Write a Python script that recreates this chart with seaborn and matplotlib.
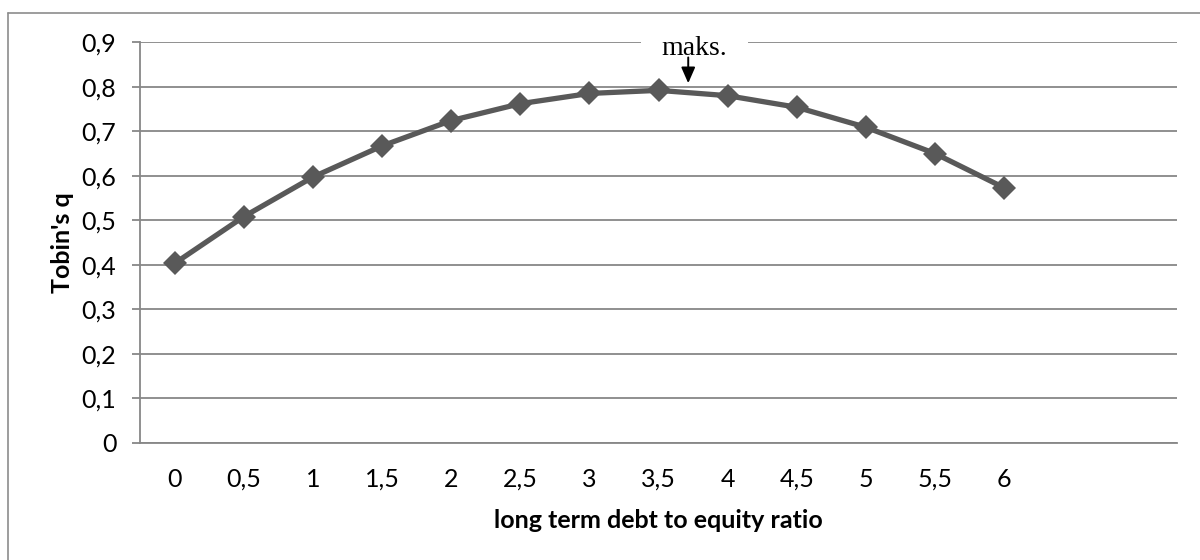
import matplotlib
matplotlib.use("Agg")
import matplotlib.pyplot as plt
from matplotlib.lines import Line2D
from matplotlib.patches import Rectangle
import numpy as np
import pandas as pd
import seaborn as sns

# Category axis: leverage levels, plus two empty slots on the right
ratio_labels = ["0", "0,5", "1", "1,5", "2", "2,5", "3", "3,5", "4", "4,5", "5", "5,5", "6", "", ""]
tobins_q = [0.403, 0.508, 0.597, 0.667, 0.724, 0.762, 0.785, 0.792, 0.780, 0.754, 0.709, 0.650, 0.573]
y_ticks = [0.0, 0.1, 0.2, 0.3, 0.4, 0.5, 0.6, 0.7, 0.8, 0.9]
y_tick_labels = ["0", "0,1", "0,2", "0,3", "0,4", "0,5", "0,6", "0,7", "0,8", "0,9"]

sns.set_theme(style="white")
plt.rcParams["font.family"] = ["Lato", "DejaVu Sans"]

GRID = "#878787"
SERIES = "#595959"

fig = plt.figure(figsize=(12, 5.6), dpi=100)
ax = fig.add_axes([140 / 1200, 1 - 442.7 / 560, 1037 / 1200, 400.4 / 560])

df = pd.DataFrame({"pos": np.arange(len(tobins_q)), "q": tobins_q})
sns.lineplot(data=df, x="pos", y="q", ax=ax, color=SERIES, linewidth=3.8,
             marker="D", markersize=12.5, markeredgewidth=0, zorder=3)

ax.set_xlim(-0.5, len(ratio_labels) - 0.5)
ax.set_ylim(0, 0.9)
ax.set_xticks(np.arange(len(ratio_labels)))
ax.set_xticklabels(ratio_labels)
ax.set_yticks(y_ticks)
ax.set_yticklabels(y_tick_labels)

ax.set_axisbelow(True)
ax.yaxis.grid(True, color=GRID, linewidth=1.3)
ax.xaxis.grid(False)
for side in ["top", "right"]:
    ax.spines[side].set_visible(False)
for side in ["left", "bottom"]:
    ax.spines[side].set_color(GRID)
    ax.spines[side].set_linewidth(1.3)

ax.tick_params(axis="y", which="both", left=True, length=6, width=1.3, color=GRID,
               pad=11, labelsize=18, labelcolor="black")
ax.tick_params(axis="x", which="both", bottom=False, pad=12, labelsize=18,
               labelcolor="black")

ax.set_xlabel("long term debt to equity ratio", fontsize=18, fontweight="bold", color="black")
ax.set_ylabel("Tobin's q", fontsize=18, fontweight="bold", color="black")
ax.xaxis.set_label_coords(0.5, -0.165)
ax.yaxis.set_label_coords(-0.064, 0.5)

# White text box behind the "maks." note, interrupting the top gridline
ax.add_patch(Rectangle((6.75, 0.86), 1.54, 0.07, facecolor="white", edgecolor="none",
                       zorder=1, clip_on=False))
ax.annotate("", xy=(7.43, 0.808), xytext=(7.43, 0.866),
            arrowprops=dict(arrowstyle="-|>,head_length=0.8,head_width=0.35",
                            color="black", lw=1.4, shrinkA=0, shrinkB=0), zorder=4)
ax.text(7.51, 0.872, "maks.", ha="center", va="baseline", fontsize=20,
        family=["Liberation Serif", "DejaVu Serif"], color="black", zorder=4)

# Chart-area frame
frame_kw = dict(color="#8c8c8c", linewidth=1.2, transform=fig.transFigure)
fig.add_artist(Line2D([8 / 1200, 1.01], [1 - 12.7 / 560, 1 - 12.7 / 560], **frame_kw))
fig.add_artist(Line2D([8 / 1200, 8 / 1200], [1 - 12.7 / 560, -0.01], **frame_kw))

fig.savefig("out.png", dpi=100, facecolor="white")
